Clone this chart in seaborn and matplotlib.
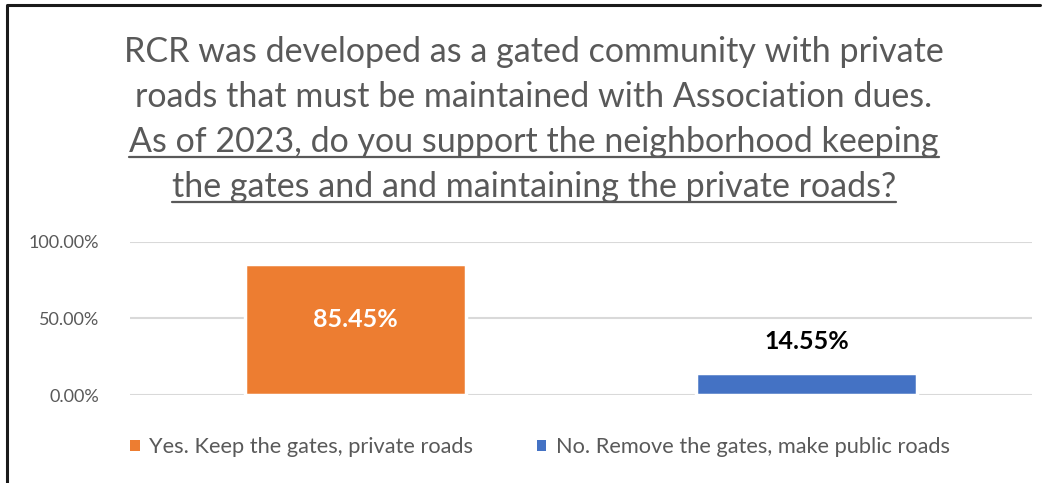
import matplotlib
matplotlib.use("Agg")
import matplotlib.pyplot as plt
from matplotlib.lines import Line2D
import seaborn as sns
import pandas as pd

# Survey answers (share of respondents)
answers = ["Yes. Keep the gates, private roads", "No. Remove the gates, make public roads"]
shares = [0.8545, 0.1455]
bar_colors = ["#ED7D31", "#4472C4"]
y_ticks = [0.0, 0.5, 1.0]

title_lines = [
    "RCR was developed as a gated community with private",
    "roads that must be maintained with Association dues.",
    "As of 2023, do you support the neighborhood keeping",
    "the gates and and maintaining the private roads?",
]
underlined = [False, False, True, True]

df = pd.DataFrame({"answer": answers, "share": shares})

sns.set_style("white")
plt.rcParams["font.family"] = ["Lato", "DejaVu Sans"]
gray = "#595959"

fig = plt.figure(figsize=(10.5, 4.83), dpi=100)
ax = fig.add_axes([130 / 1050, 1 - 395 / 483, 902 / 1050, 153.5 / 483])

sns.barplot(data=df, x="answer", y="share", hue="answer", palette=bar_colors,
            saturation=1, width=0.49, ax=ax, legend=True, edgecolor="white",
            linewidth=2.5, zorder=3)

ax.set_ylim(0, 1)
ax.set_yticks(y_ticks)
ax.set_yticklabels([f"{v:.2%}" for v in y_ticks], fontsize=13, color=gray)
ax.set_xticks([])
ax.set_xlabel("")
ax.set_ylabel("")
ax.tick_params(axis="y", length=0, pad=22)
for s in ax.spines.values():
    s.set_visible(False)
ax.grid(axis="y", color="#d9d9d9", linewidth=1.5, zorder=0)
ax.set_axisbelow(True)

# data labels
c_yes, c_no = ax.containers[0], ax.containers[1]
lab = ax.bar_label(c_yes, labels=[f"{shares[0]:.2%}"], label_type="center",
                   color="white", fontsize=18, fontweight="bold")
for a in lab:
    a.xyann = (0, 7)
ax.bar_label(c_no, labels=[f"{shares[1]:.2%}"], label_type="edge", padding=14,
             color="black", fontsize=18, fontweight="bold")

# legend
handles, labels = ax.get_legend_handles_labels()
ax.legend(handles, labels, loc="center", bbox_to_anchor=(540 / 1050, 1 - 447 / 483),
          bbox_transform=fig.transFigure, ncol=2, frameon=False, fontsize=15.7,
          labelcolor=gray, handlelength=0.42, handleheight=0.42,
          handletextpad=0.45, columnspacing=2.9)
for h in ax.get_legend().legend_handles:
    h.set_edgecolor("none")

# title, line by line, with underline on the question part
baselines = [62, 107, 152, 197]
texts = []
for line, yb in zip(title_lines, baselines):
    t = fig.text(534 / 1050, 1 - yb / 483, line, ha="center", va="baseline",
                 fontsize=24.5, color=gray)
    texts.append(t)

fig.canvas.draw()
renderer = fig.canvas.get_renderer()
for t, yb, ul in zip(texts, baselines, underlined):
    if not ul:
        continue
    bb = t.get_window_extent(renderer)
    yl = 1 - (yb + 5) / 483
    fig.add_artist(Line2D([bb.x0 / 1050, bb.x1 / 1050], [yl, yl],
                          transform=fig.transFigure, color=gray, linewidth=1.6))

# chart frame (left and top edges)
fig.add_artist(Line2D([7 / 1050, 7 / 1050, 1040 / 1050], [0, 1 - 5 / 483, 1 - 5 / 483],
                      transform=fig.transFigure, color="#1a1a1a", linewidth=2.2))

fig.savefig("out.png", dpi=100)
